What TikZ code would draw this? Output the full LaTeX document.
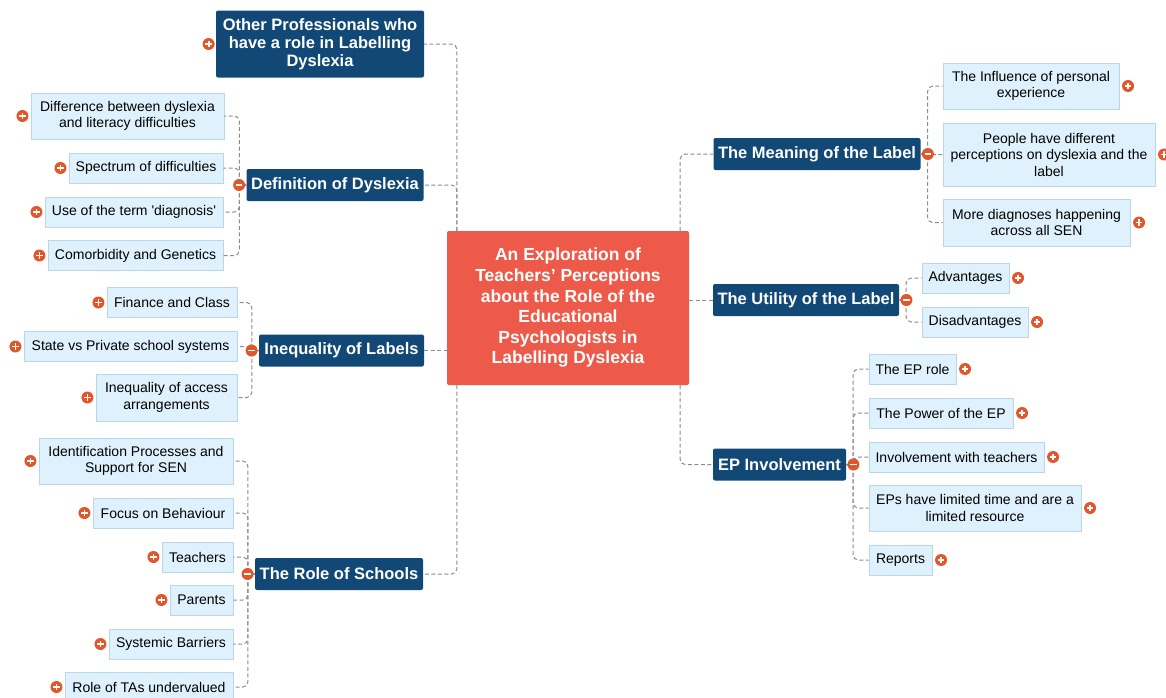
\documentclass[tikz,border=0pt]{standalone}
\usepackage{fontspec}
\setmainfont{Liberation Sans}
\usepackage{tikz}
\usetikzlibrary{positioning}
\definecolor{topicblue}{RGB}{17,72,118}
\definecolor{rootred}{RGB}{238,90,74}
\definecolor{subfill}{RGB}{223,241,252}
\definecolor{subline}{RGB}{186,214,233}
\definecolor{iconred}{RGB}{226,86,42}
\definecolor{linkgrey}{RGB}{140,140,140}

\begin{document}
\begin{tikzpicture}[x=1pt, y=-1pt,
    root/.style = {fill=rootred, text=white, font=\bfseries\fontsize{17.5}{20.6}\selectfont, align=center, rounded corners=2pt, inner sep=0pt, minimum width=242, minimum height=154},
    topic/.style = {fill=topicblue, text=white, font=\bfseries\fontsize{16.5}{18}\selectfont, align=center, rounded corners=2pt, inner sep=0pt, minimum height=32},
    sub/.style = {draw=subline, line width=0.7pt, fill=subfill, font=\fontsize{14}{16.5}\selectfont, align=center, inner sep=0pt, minimum height=30},
    link/.style = {draw=linkgrey, dash pattern=on 4pt off 2.5pt, line width=1pt, rounded corners=5pt},
    plusicon/.style = {circle, fill=iconred, inner sep=0pt, minimum size=12, path picture={
        \draw[white, line width=1.8pt] ([xshift=-3.2pt]path picture bounding box.center) -- ([xshift=3.2pt]path picture bounding box.center)
            ([yshift=-3.2pt]path picture bounding box.center) -- ([yshift=3.2pt]path picture bounding box.center);}},
    minusicon/.style = {circle, fill=iconred, inner sep=0pt, minimum size=12, path picture={
        \draw[white, line width=1.8pt] ([xshift=-3.2pt]path picture bounding box.center) -- ([xshift=3.2pt]path picture bounding box.center);}}]
    \useasboundingbox (0,0) rectangle (1166,697);

    \node[root] (root) at (568,308) {An Exploration of\\Teachers' Perceptions\\about the Role of the\\Educational\\Psychologists in\\Labelling Dyslexia};

    \node[topic, minimum width=208, minimum height=67] (other) at (320,44) {Other Professionals who\\have a role in Labelling\\Dyslexia};
    \node[topic, minimum width=177] (def) at (335,185) {Definition of Dyslexia};
    \node[topic, minimum width=165] (ineq) at (341.5,350.5) {Inequality of Labels};
    \node[topic, minimum width=168] (role) at (339,574) {The Role of Schools};
    \node[topic, minimum width=207] (meaning) at (817,154) {The Meaning of the Label};
    \node[topic, minimum width=186] (util) at (806,300) {The Utility of the Label};
    \node[topic, minimum width=133] (ep) at (779.5,464.5) {EP Involvement};

    \node[sub, minimum width=193, minimum height=46] (d1) at (127.5,116) {Difference between dyslexia\\and literacy difficulties};
    \node[sub, minimum width=154] (d2) at (146,168) {Spectrum of difficulties};
    \node[sub, minimum width=178] (d3) at (134,212) {Use of the term \textquotesingle diagnosis\textquotesingle};
    \node[sub, minimum width=175] (d4) at (135.5,255.5) {Comorbidity and Genetics};

    \node[sub, minimum width=130] (i1) at (172,302.5) {Finance and Class};
    \node[sub, minimum width=213] (i2) at (130.5,346.5) {State vs Private school systems};
    \node[sub, minimum width=141, minimum height=47] (i3) at (166.5,397.5) {Inequality of access\\arrangements};

    \node[sub, minimum width=194, minimum height=46] (r1) at (136,461) {Identification Processes and\\Support for SEN};
    \node[sub, minimum width=140] (r2) at (163,513) {Focus on Behaviour};
    \node[sub, minimum width=71] (r3) at (197.5,557) {Teachers};
    \node[sub, minimum width=63] (r4) at (201.5,600) {Parents};
    \node[sub, minimum width=124] (r5) at (171,644) {Systemic Barriers};
    \node[sub, minimum width=168] (r6) at (149,687) {Role of TAs undervalued};

    \node[sub, minimum width=176, minimum height=46] (m1) at (1031,86) {The Influence of personal\\experience};
    \node[sub, minimum width=212, minimum height=63] (m2) at (1049,154.5) {People have different\\perceptions on dyslexia and the\\label};
    \node[sub, minimum width=187, minimum height=47] (m3) at (1036.5,222.5) {More diagnoses happening\\across all SEN};

    \node[sub, minimum width=87] (u1) at (965.5,278) {Advantages};
    \node[sub, minimum width=106] (u2) at (975,322) {Disadvantages};

    \node[sub, minimum width=87] (e1) at (912.5,369) {The EP role};
    \node[sub, minimum width=144] (e2) at (941,413) {The Power of the EP};
    \node[sub, minimum width=175] (e3) at (956.5,457) {Involvement with teachers};
    \node[sub, minimum width=212, minimum height=46] (e4) at (975,508) {EPs have limited time and are a\\limited resource};
    \node[sub, minimum width=63] (e5) at (900.5,560) {Reports};

    \draw[link] ([xshift=10pt]root.north west) |- (other);
    \draw[link] ([xshift=10pt]root.north west) |- (def);
    \draw[link] (ineq.east) -- (ineq.east -| root.west);
    \draw[link] ([xshift=10pt]root.south west) |- (role);
    \draw[link] ([xshift=-9pt]root.north east) |- (meaning);
    \draw[link] (util.west) -- (util.west -| root.east);
    \draw[link] ([xshift=-9pt]root.south east) |- (ep);

    \draw[link] (def.west) -- ++(-7,0) |- (d1);
    \draw[link] (def.west) -- ++(-7,0) |- (d2);
    \draw[link] (def.west) -- ++(-7,0) |- (d3);
    \draw[link] (def.west) -- ++(-7,0) |- (d4);
    \draw[link] (ineq.west) -- ++(-7,0) |- (i1);
    \draw[link] (ineq.west) -- ++(-7,0) |- (i2);
    \draw[link] (ineq.west) -- ++(-7,0) |- (i3);
    \draw[link] (role.west) -- ++(-7,0) |- (r1);
    \draw[link] (role.west) -- ++(-7,0) |- (r2);
    \draw[link] (role.west) -- ++(-7,0) |- (r3);
    \draw[link] (role.west) -- ++(-7,0) |- (r4);
    \draw[link] (role.west) -- ++(-7,0) |- (r5);
    \draw[link] (role.west) -- ++(-7,0) |- (r6);
    \draw[link] (meaning.east) -- ++(7,0) |- (m1);
    \draw[link] (meaning.east) -- ++(7,0) |- (m2);
    \draw[link] (meaning.east) -- ++(7,0) |- (m3);
    \draw[link] (util.east) -- ++(7,0) |- (u1);
    \draw[link] (util.east) -- ++(7,0) |- (u2);
    \draw[link] (ep.east) -- ++(7,0) |- (e1);
    \draw[link] (ep.east) -- ++(7,0) |- (e2);
    \draw[link] (ep.east) -- ++(7,0) |- (e3);
    \draw[link] (ep.east) -- ++(7,0) |- (e4);
    \draw[link] (ep.east) -- ++(7,0) |- (e5);

    \node[plusicon] (pother) [left=1pt of other] {};
    \node[minusicon] (mdef) [left=1pt of def] {};
    \node[minusicon] (mineq) [left=1pt of ineq] {};
    \node[minusicon] (mrole) [left=1pt of role] {};
    \node[minusicon] (mmeaning) [right=1pt of meaning] {};
    \node[minusicon] (mutil) [right=1pt of util] {};
    \node[minusicon] (mep) [right=1pt of ep] {};

    \node[plusicon] (pd1) [left=2pt of d1] {};
    \node[plusicon] (pd2) [left=2pt of d2] {};
    \node[plusicon] (pd3) [left=2pt of d3] {};
    \node[plusicon] (pd4) [left=2pt of d4] {};
    \node[plusicon] (pi1) [left=2pt of i1] {};
    \node[plusicon] (pi2) [left=2pt of i2] {};
    \node[plusicon] (pi3) [left=2pt of i3] {};
    \node[plusicon] (pr1) [left=2pt of r1] {};
    \node[plusicon] (pr2) [left=2pt of r2] {};
    \node[plusicon] (pr3) [left=2pt of r3] {};
    \node[plusicon] (pr4) [left=2pt of r4] {};
    \node[plusicon] (pr5) [left=2pt of r5] {};
    \node[plusicon] (pr6) [left=2pt of r6] {};
    \node[plusicon] (pm1) [right=2.5pt of m1] {};
    \node[plusicon] (pm2) [right=2.5pt of m2] {};
    \node[plusicon] (pm3) [right=2.5pt of m3] {};
    \node[plusicon] (pu1) [right=2.5pt of u1] {};
    \node[plusicon] (pu2) [right=2.5pt of u2] {};
    \node[plusicon] (pe1) [right=2.5pt of e1] {};
    \node[plusicon] (pe2) [right=2.5pt of e2] {};
    \node[plusicon] (pe3) [right=2.5pt of e3] {};
    \node[plusicon] (pe4) [right=2.5pt of e4] {};
    \node[plusicon] (pe5) [right=2.5pt of e5] {};
\end{tikzpicture}
\end{document}
